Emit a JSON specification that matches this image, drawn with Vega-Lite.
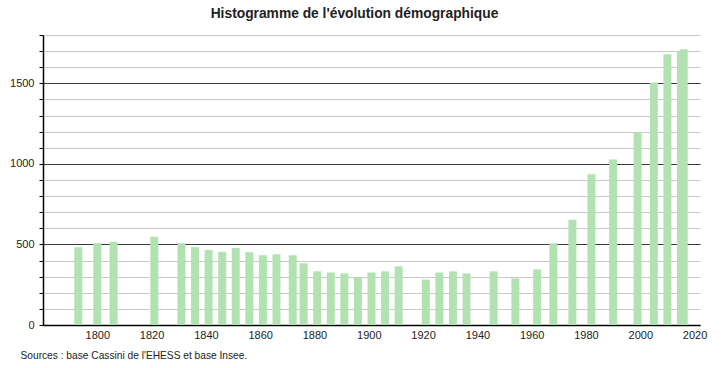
{
  "$schema": "https://vega.github.io/schema/vega-lite/v6.json",
  "width": 657,
  "height": 290,
  "autosize": {"type": "none"},
  "padding": {"left": 43, "top": 35, "right": 23, "bottom": 43},
  "background": "white",
  "title": {
    "text": "Histogramme de l'évolution démographique",
    "font": "Liberation Sans",
    "fontSize": 13.8,
    "fontWeight": "bold",
    "color": "#222222",
    "anchor": "middle",
    "frame": "group",
    "dx": -17,
    "offset": 14
  },
  "config": {
    "view": {"stroke": null},
    "font": "Liberation Sans"
  },
  "data": {
    "values": [
      {"annee": 1793, "population": 483},
      {"annee": 1800, "population": 508},
      {"annee": 1806, "population": 517},
      {"annee": 1821, "population": 548},
      {"annee": 1831, "population": 508},
      {"annee": 1836, "population": 483},
      {"annee": 1841, "population": 466},
      {"annee": 1846, "population": 454},
      {"annee": 1851, "population": 478},
      {"annee": 1856, "population": 452},
      {"annee": 1861, "population": 433},
      {"annee": 1866, "population": 439},
      {"annee": 1872, "population": 433},
      {"annee": 1876, "population": 383},
      {"annee": 1881, "population": 333},
      {"annee": 1886, "population": 326},
      {"annee": 1891, "population": 320},
      {"annee": 1896, "population": 297},
      {"annee": 1901, "population": 326},
      {"annee": 1906, "population": 333},
      {"annee": 1911, "population": 364},
      {"annee": 1921, "population": 282},
      {"annee": 1926, "population": 326},
      {"annee": 1931, "population": 333},
      {"annee": 1936, "population": 320},
      {"annee": 1946, "population": 333},
      {"annee": 1954, "population": 289},
      {"annee": 1962, "population": 345},
      {"annee": 1968, "population": 508},
      {"annee": 1975, "population": 653},
      {"annee": 1982, "population": 935},
      {"annee": 1990, "population": 1027},
      {"annee": 1999, "population": 1196},
      {"annee": 2005, "population": 1505},
      {"annee": 2010, "population": 1680},
      {"annee": 2015, "population": 1696},
      {"annee": 2016, "population": 1711}
    ]
  },
  "mark": {"type": "bar", "size": 8, "color": "#b2e2b2"},
  "encoding": {
    "x": {
      "field": "annee",
      "type": "quantitative",
      "scale": {"domain": [1780, 2022], "nice": false, "zero": false, "padding": 0},
      "axis": {
        "values": [1800, 1820, 1840, 1860, 1880, 1900, 1920, 1940, 1960, 1980, 2000, 2020],
        "format": "d",
        "grid": false,
        "ticks": false,
        "domainColor": "#000000",
        "domainWidth": 1.5,
        "labelFont": "Liberation Sans",
        "labelFontSize": 11,
        "labelColor": "#222222",
        "labelPadding": 4,
        "title": "Sources : base Cassini de l'EHESS et base Insee.",
        "titleFont": "Liberation Sans",
        "titleFontSize": 10.2,
        "titleFontWeight": "normal",
        "titleColor": "#222222",
        "titleAnchor": "start",
        "titleAlign": "left",
        "titleBaseline": "alphabetic",
        "titleX": -23,
        "titleY": 33
      }
    },
    "y": {
      "field": "population",
      "type": "quantitative",
      "scale": {"domain": [0, 1800], "nice": false},
      "axis": {
        "values": [0, 100, 200, 300, 400, 500, 600, 700, 800, 900, 1000, 1100, 1200, 1300, 1400, 1500, 1600, 1700, 1800],
        "labelExpr": "datum.value % 500 === 0 ? datum.label : ''",
        "format": "d",
        "grid": true,
        "gridColor": {"condition": {"test": "datum.value % 500 === 0", "value": "#3a3a3a"}, "value": "#c8c8c8"},
        "gridWidth": 1,
        "gridOpacity": 1,
        "ticks": true,
        "tickSize": 4,
        "tickColor": "#000000",
        "domainColor": "#000000",
        "domainWidth": 1.5,
        "labelFont": "Liberation Sans",
        "labelFontSize": 11,
        "labelColor": "#222222",
        "labelPadding": 5,
        "title": null
      }
    }
  }
}
